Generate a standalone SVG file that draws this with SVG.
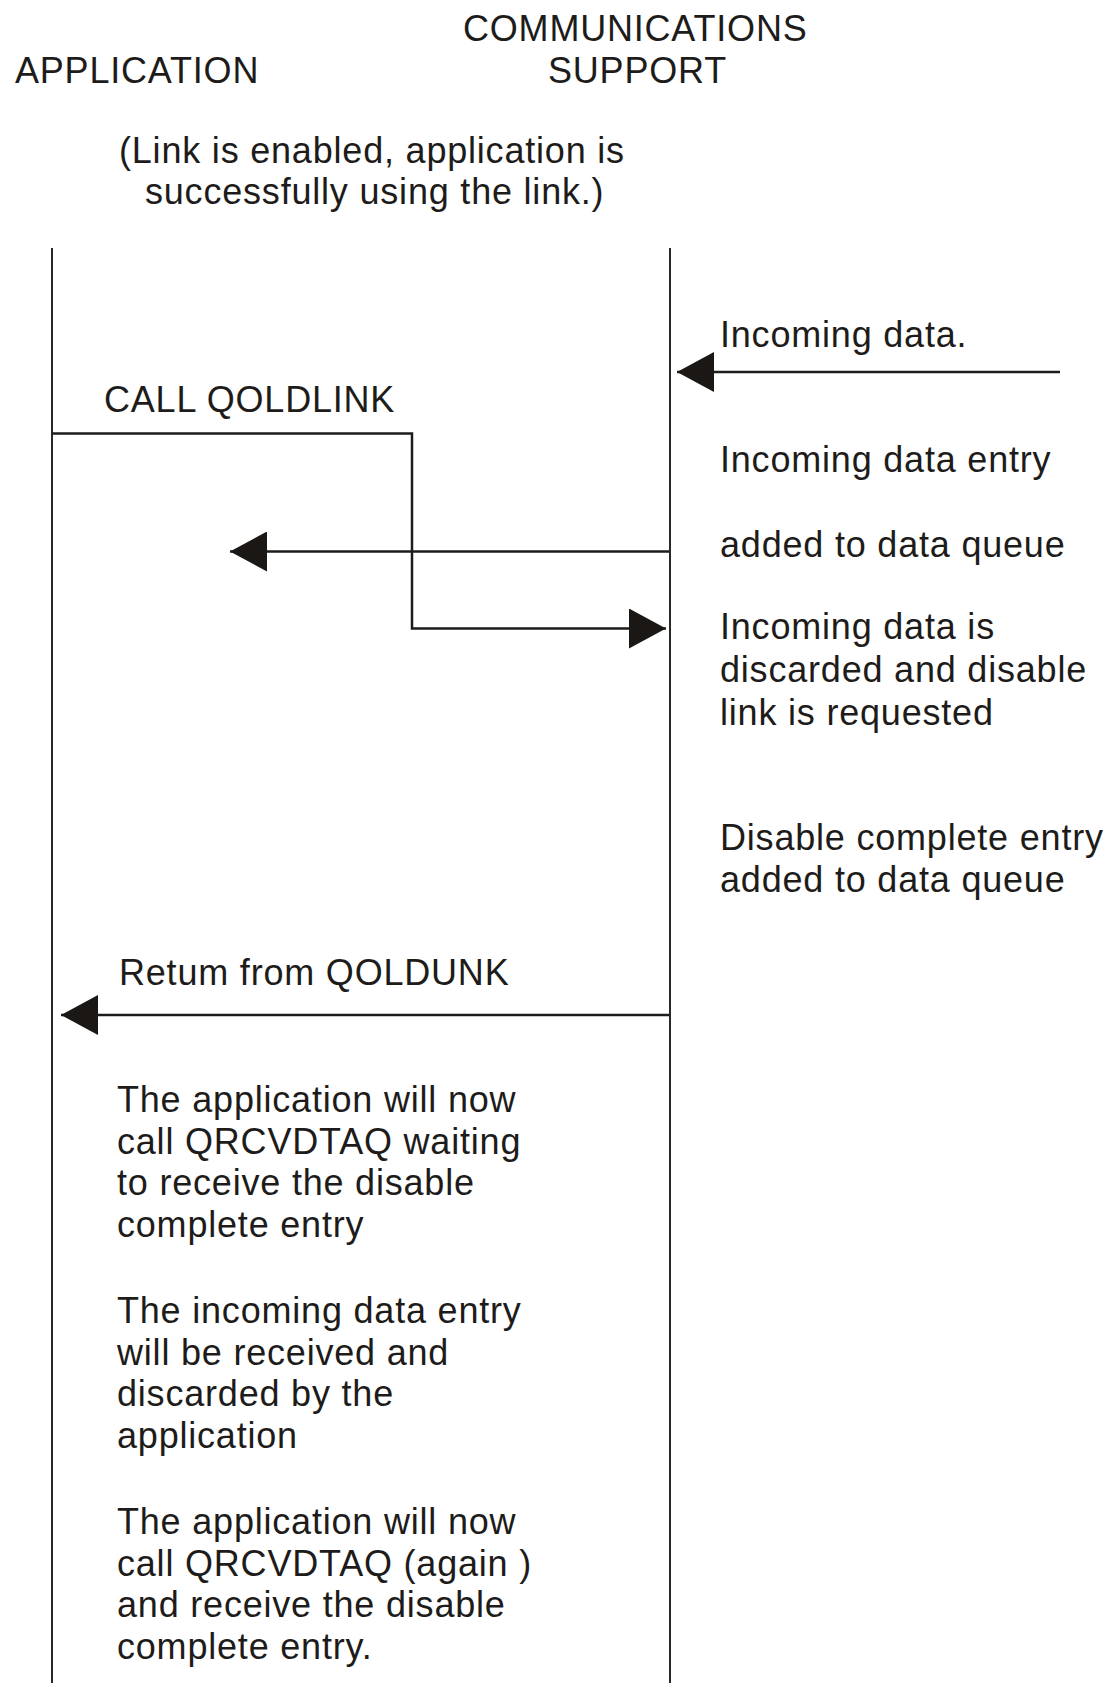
<svg xmlns="http://www.w3.org/2000/svg" width="1108" height="1683" viewBox="0 0 1108 1683">
<style>
text{font-family:"Liberation Sans",Arial,sans-serif;font-size:36px;fill:#1e1c1a;letter-spacing:0.8px}
.life{stroke:#2a2826;stroke-width:2;fill:none}
.msg{stroke:#1e1c1a;stroke-width:2.5;fill:none}
</style>
<defs>
<marker id="ah" markerUnits="userSpaceOnUse" markerWidth="38" markerHeight="40" refX="37" refY="20" orient="auto" viewBox="0 0 38 40">
<path d="M0,0 L37,20 L0,40 Z" fill="#1a1714"/>
</marker>
</defs>
<rect width="1108" height="1683" fill="#ffffff"/>
<g id="application">
<text x="15" y="83">APPLICATION</text>
<line class="life" x1="52" y1="248" x2="52" y2="1683"/>
</g>
<g id="communications-support">
<text x="463" y="41">COMMUNICATIONS</text>
<text x="548" y="83">SUPPORT</text>
<line class="life" x1="670" y1="248" x2="670" y2="1683"/>
</g>
<g id="note-enabled">
<text x="119" y="163">(Link is enabled, application is</text>
<text x="145" y="204">successfully using the link.)</text>
</g>
<g id="note-cs">
<text x="720" y="347">Incoming data.</text>
<text x="720" y="472">Incoming data entry</text>
<text x="720" y="557">added to data queue</text>
<text x="720" y="639">Incoming data is</text>
<text x="720" y="682">discarded and disable</text>
<text x="720" y="725">link is requested</text>
<text x="720" y="850">Disable complete entry</text>
<text x="720" y="892">added to data queue</text>
</g>
<g id="note-app">
<text x="104" y="412">CALL QOLDLINK</text>
<text x="119" y="985">Retum from QOLDUNK</text>
<text x="117" y="1112">The application will now</text>
<text x="117" y="1154">call QRCVDTAQ waiting</text>
<text x="117" y="1195">to receive the disable</text>
<text x="117" y="1237">complete entry</text>
<text x="117" y="1323">The incoming data entry</text>
<text x="117" y="1365">will be received and</text>
<text x="117" y="1406">discarded by the</text>
<text x="117" y="1448">application</text>
<text x="117" y="1534">The application will now</text>
<text x="117" y="1576">call QRCVDTAQ (again )</text>
<text x="117" y="1617">and receive the disable</text>
<text x="117" y="1659">complete entry.</text>
</g>
<g id="connectors">
<line class="msg" x1="1060" y1="372" x2="677" y2="372" marker-end="url(#ah)"/>
<path class="msg" d="M52,433.5 H412 V628.5 H666" marker-end="url(#ah)"/>
<line class="msg" x1="669" y1="551.5" x2="230" y2="551.5" marker-end="url(#ah)"/>
<line class="msg" x1="669" y1="1015" x2="61" y2="1015" marker-end="url(#ah)"/>
</g>
</svg>
